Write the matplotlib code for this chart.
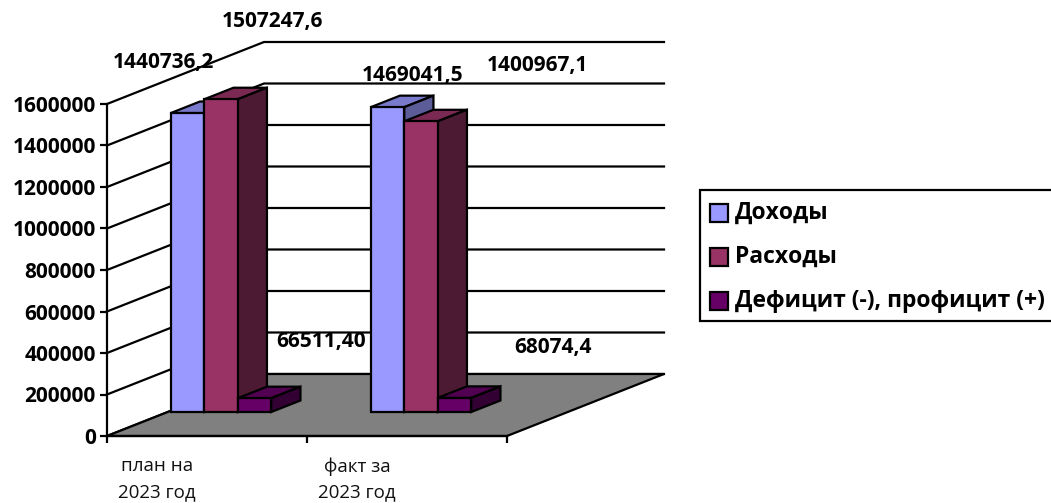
import matplotlib
matplotlib.use("Agg")
import matplotlib.pyplot as plt
from matplotlib.patches import Polygon, Rectangle

categories = ["план на\n2023 год", "факт за\n2023 год"]
series_names = ["Доходы", "Расходы", "Дефицит (-), профицит (+)"]
income = [1440736.2, 1469041.5]
expense = [1507247.6, 1400967.1]
balance = [66511.4, 68074.4]
label_texts = [["1440736,2", "1469041,5"], ["1507247,6", "1400967,1"], ["66511,40", "68074,4"]]
label_px = [[(163, 63), (413, 75)], [(272, 22), (537, 66)], [(321, 342), (553, 348)]]
yticks = [0, 200000, 400000, 600000, 800000, 1000000, 1200000, 1400000, 1600000]
front_colors = ["#9999FF", "#993366", "#660066"]
top_colors = ["#7A7ACC", "#7A2952", "#520052"]
side_colors = ["#5C5C99", "#4D1A33", "#330033"]

W, H = 1051, 503
FONT = "Open Sans"
fig = plt.figure(figsize=(W / 100, H / 100), dpi=100, facecolor="white")
ax = fig.add_axes([107 / W, 1 - 436 / H, 400 / W, 332 / H], facecolor="none")
ax.set_xlim(0, 2)
ax.set_ylim(0, 1600000)

DX = 157 / 200          # wall offset in category units
DY = 62 / 332 * 1600000 # wall offset in value units
LW = 1.6


def pt(x, y, d):
    return (x + DX * d, y + DY * d)


def poly(points, fc, z):
    ax.add_patch(Polygon(points, closed=True, facecolor=fc, edgecolor="black",
                         linewidth=LW, joinstyle="miter", clip_on=False, zorder=z))


# wall grid lines
for v in yticks:
    a, b, c = pt(0, v, 0), pt(0, v, 1), pt(2, v, 1)
    ax.plot([a[0], b[0], c[0]], [a[1], b[1], c[1]], color="black", lw=LW,
            clip_on=False, zorder=1, solid_joinstyle="miter")

# floor
poly([pt(0, 0, 0), pt(0, 0, 1), pt(2, 0, 1), pt(2, 0, 0)], "#808080", 2)

# bars
d1, d2 = 0.387, 0.573
bw = 0.1675
z = 3
for g in range(2):
    for s, vals in enumerate([income, expense, balance]):
        x0 = g + 0.015 + s * bw
        x1 = x0 + bw
        v = vals[g]
        poly([pt(x0, v, d1), pt(x0, v, d2), pt(x1, v, d2), pt(x1, v, d1)], top_colors[s], z)
        poly([pt(x1, 0, d1), pt(x1, 0, d2), pt(x1, v, d2), pt(x1, v, d1)], side_colors[s], z)
        poly([pt(x0, 0, d1), pt(x1, 0, d1), pt(x1, v, d1), pt(x0, v, d1)], front_colors[s], z + 0.5)
        z += 1

# axes
for name in ["top", "right"]:
    ax.spines[name].set_visible(False)
for name in ["left", "bottom"]:
    ax.spines[name].set_linewidth(LW)
    ax.spines[name].set_zorder(50)
ax.set_yticks(yticks)
ax.set_yticklabels([str(v) for v in yticks], fontfamily=FONT, fontweight="bold", fontsize=15)
ax.tick_params(axis="y", length=5, width=LW, pad=3)
ax.set_xticks([0, 1, 2])
ax.set_xticklabels([])
ax.tick_params(axis="x", length=5, width=LW)
for i, c in enumerate(categories):
    ax.text(i + 0.25, -103000, c, ha="center", va="top", fontfamily=FONT, fontsize=13.5,
            color="#111111", linespacing=1.55, clip_on=False)

# data labels
for names, pos in zip(label_texts, label_px):
    for t, (px, py) in zip(names, pos):
        fig.text(px / W, 1 - py / H, t, ha="center", va="center", fontfamily=FONT,
                 fontweight="bold", fontsize=15, zorder=60)

# legend
lg = fig.add_axes([0, 0, 1, 1], facecolor="none")
lg.set_xlim(0, W)
lg.set_ylim(H, 0)
lg.axis("off")
lg.add_patch(Rectangle((700, 190), 360, 131, facecolor="white", edgecolor="black", linewidth=LW, clip_on=True))
for name, c, y in zip(series_names, front_colors, [213, 257, 301]):
    lg.add_patch(Rectangle((710, y - 9), 18, 18, facecolor=c, edgecolor="black", linewidth=LW))
    lg.text(735, y, name, fontfamily=FONT, fontweight="bold", fontsize=16.5, va="center", ha="left")

fig.savefig("out.png", dpi=100)
